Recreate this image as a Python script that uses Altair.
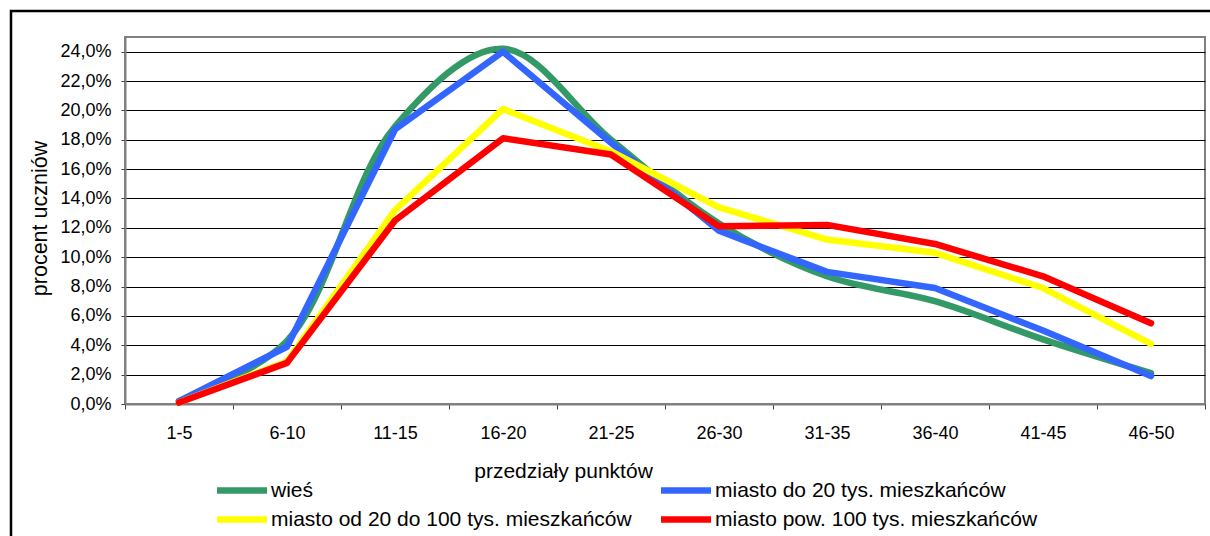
import altair as alt
import pandas as pd

categories = ["1-5", "6-10", "11-15", "16-20", "21-25", "26-30", "31-35", "36-40", "41-45", "46-50"]
series_names = [
    "wieś",
    "miasto do 20 tys. mieszkańców",
    "miasto od 20 do 100 tys. mieszkańców",
    "miasto pow. 100 tys. mieszkańców",
]
wies = [0.2, 4.3, 18.9, 24.2, 18.0, 12.3, 8.7, 7.0, 4.4, 2.1]
miasto_do_20 = [0.2, 3.9, 18.7, 24.0, 17.8, 11.8, 9.0, 7.9, 5.0, 1.9]
miasto_20_100 = [0.1, 2.9, 13.2, 20.1, 17.2, 13.4, 11.2, 10.3, 7.9, 4.1]
miasto_pow_100 = [0.1, 2.8, 12.5, 18.1, 17.0, 12.1, 12.2, 10.9, 8.7, 5.5]
series_values = [wies, miasto_do_20, miasto_20_100, miasto_pow_100]
colors = ["#339966", "#3366FF", "#FFFF00", "#FF0000"]
widths = [6.5, 6.5, 4, 4.5]
y_ticks = [0.0, 0.02, 0.04, 0.06, 0.08, 0.10, 0.12, 0.14, 0.16, 0.18, 0.20, 0.22, 0.24]

rows = []
for name, vals in zip(series_names, series_values):
    for c, v in zip(categories, vals):
        rows.append({"przedzial": c, "seria": name, "procent": v / 100.0})
df = pd.DataFrame(rows)

FONT = "Liberation Sans"

x_enc = alt.X(
    "przedzial:N",
    sort=categories,
    scale=alt.Scale(type="band", domain=categories, paddingInner=0, paddingOuter=0),
    axis=alt.Axis(
        title="przedziały punktów",
        labelAngle=0,
        tickBand="extent",
        tickSize=5,
        tickColor="#404040",
        domainColor="#808080",
        domainWidth=2,
        labelFontSize=18,
        labelFont=FONT,
        labelColor="black",
        labelBaseline="alphabetic",
        labelPadding=29,
        grid=False,
        titleFont=FONT,
        titleFontSize=21,
        titleFontWeight="normal",
        titleColor="black",
        titleX=438,
        titleY=73,
        titleBaseline="alphabetic",
        titleAlign="center",
    ),
)
y_enc = alt.Y(
    "procent:Q",
    scale=alt.Scale(domain=[0, 0.25], nice=False),
    axis=alt.Axis(
        title="procent uczniów",
        values=y_ticks,
        labelExpr="replace(format(datum.value, '.1%'), '.', ',')",
        tickSize=4,
        tickColor="#404040",
        domainColor="#808080",
        domainWidth=2,
        labelFontSize=18,
        labelFont=FONT,
        labelColor="black",
        labelPadding=10,
        grid=True,
        gridColor="black",
        gridWidth=1,
        titleFont=FONT,
        titleFontSize=21.5,
        titleFontWeight="normal",
        titleColor="black",
        titleAngle=270,
        titleX=-79,
        titleY=181,
        titleBaseline="alphabetic",
    ),
)
color_enc = alt.Color(
    "seria:N",
    scale=alt.Scale(domain=series_names, range=colors),
    legend=alt.Legend(
        title=None,
        orient="none",
        direction="horizontal",
        legendX=101,
        legendY=437.5,
        columns=2,
        columnPadding=16,
        rowPadding=-4.5,
        symbolType="M-2,0H2",
        symbolSize=625,
        labelFontSize=21,
        labelFont=FONT,
        labelColor="black",
        labelOffset=13,
        labelLimit=600,
        padding=0,
    ),
)
sw_enc = alt.StrokeWidth(
    "seria:N",
    scale=alt.Scale(domain=series_names, range=widths),
    legend=alt.Legend(title=None),
)

base = alt.Chart(df)
layers = []
for i, name in enumerate(series_names):
    interp = "catmull-rom" if i == 0 else "linear"
    layers.append(
        base.transform_filter(alt.datum.seria == name)
        .mark_line(interpolate=interp, strokeCap="round", strokeJoin="round")
        .encode(x=x_enc, y=y_enc, color=color_enc, strokeWidth=sw_enc)
    )

frame = (
    alt.Chart(alt.Data(values=[{"a": 1}]))
    .mark_rect(filled=False, stroke="black", strokeWidth=2.5)
    .encode(x=alt.value(-114), x2=alt.value(1100), y=alt.value(-26), y2=alt.value(520))
)

chart = (
    alt.layer(*layers, frame)
    .properties(
        width=1080,
        height=367,
        autosize=alt.AutoSizeParams(type="none"),
        padding={"left": 125, "top": 37, "right": 5, "bottom": 132},
        background="white",
    )
    .configure_view(stroke="#808080", strokeWidth=2)
)

chart.save("out.html", embed_options={"renderer": "svg", "actions": False})
